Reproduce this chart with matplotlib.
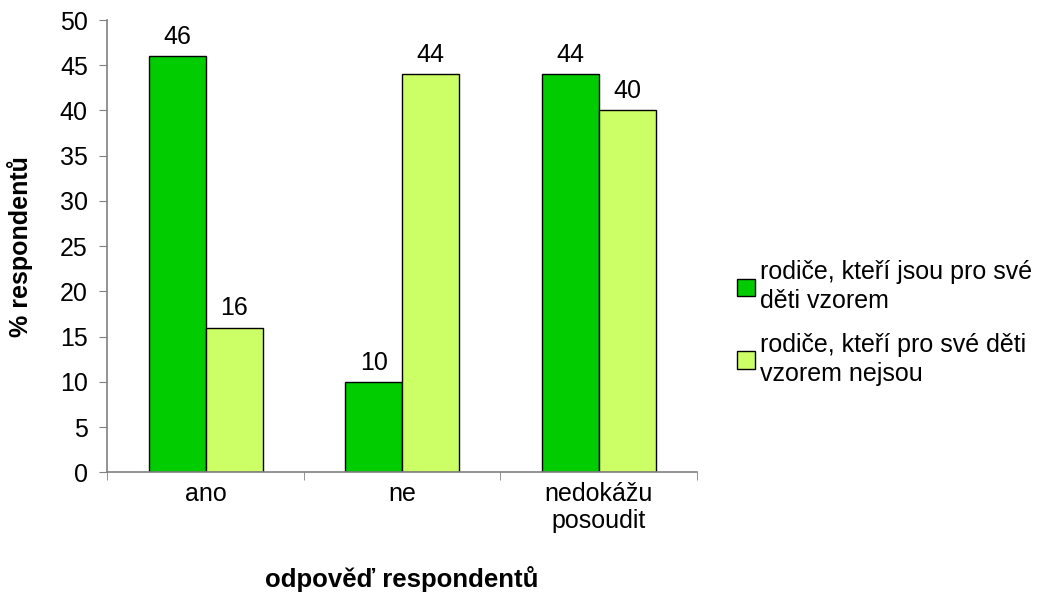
import matplotlib.pyplot as plt
import numpy as np

plt.rcParams["font.family"] = ["Liberation Sans", "DejaVu Sans"]

categories = ["ano", "ne", "nedokážu\nposoudit"]
series_names = ["rodiče, kteří jsou pro své\nděti vzorem",
                "rodiče, kteří pro své děti\nvzorem nejsou"]
vzorem = [46, 10, 44]
nejsou = [16, 44, 40]
colors = ["#00CC00", "#CCFF66"]

fs = 18

fig = plt.figure(figsize=(10.52, 6.07), dpi=100)
ax = fig.add_axes([0.102, 0.222, 0.5605, 0.745])

x = np.arange(len(categories))
w = 0.29
for i, (vals, col, name) in enumerate(zip([vzorem, nejsou], colors, series_names)):
    pos = x + (i - 0.5) * w
    bars = ax.bar(pos, vals, w, color=col, edgecolor="black", linewidth=1, label=name)
    for b, v in zip(bars, vals):
        ax.text(b.get_x() + b.get_width() / 2, v + 0.8, str(v),
                ha="center", va="bottom", fontsize=fs)

ax.set_xlim(-0.5, len(categories) - 0.5)
ax.set_ylim(0, 50)
ax.set_yticks(range(0, 51, 5))
ax.set_xticks(x)
ax.set_xticklabels(categories, fontsize=fs, linespacing=1.15)
ax.set_xticks(np.arange(-0.5, len(categories)), minor=True)
ax.tick_params(axis="x", which="major", length=0, pad=7)
ax.tick_params(axis="x", which="minor", length=6, color="#808080", direction="out")
ax.tick_params(axis="y", length=6, color="#808080", direction="out", labelsize=fs, pad=8)

for s in ["top", "right"]:
    ax.spines[s].set_visible(False)
for s in ["left", "bottom"]:
    ax.spines[s].set_color("#808080")
    ax.spines[s].set_linewidth(1.2)

ax.set_ylabel("% respondentů", fontsize=fs, fontweight="bold", labelpad=19)
ax.set_xlabel("odpověď respondentů", fontsize=18.5, fontweight="bold", labelpad=24)

leg = ax.legend(loc="center left", bbox_to_anchor=(1.03, 0.33), frameon=False,
                fontsize=fs, handlelength=0.7, handleheight=0.7, handletextpad=0.2,
                labelspacing=0.8)
for t in leg.get_texts():
    t.set_linespacing(1.25)

fig.savefig("out.png", dpi=100)
